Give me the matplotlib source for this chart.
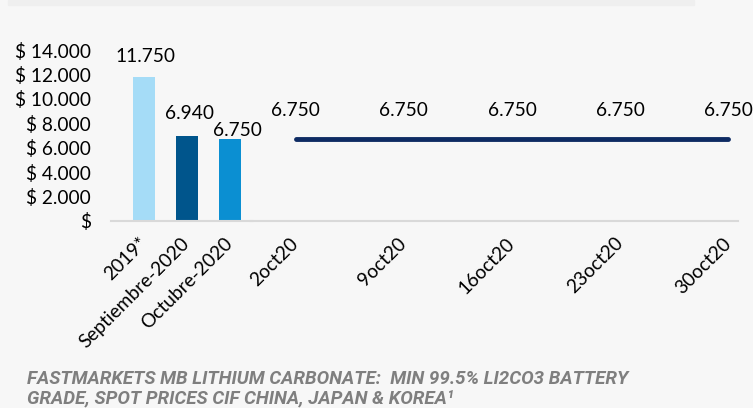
import matplotlib.pyplot as plt
from matplotlib.patches import Rectangle

bar_labels = ["2019*", "Septiembre-2020", "Octubre-2020"]
bar_values = [11750, 6940, 6750]
bar_colors = ["#a5dcf7", "#00558c", "#0b8fd2"]

line_labels = ["2oct20", "9oct20", "16oct20", "23oct20", "30oct20"]
line_values = [6750, 6750, 6750, 6750, 6750]

yticks = [0, 2000, 4000, 6000, 8000, 10000, 12000, 14000]
ytick_labels = ["$"] + ["$ {:,}".format(v).replace(",", ".") for v in yticks[1:]]

title = ("FASTMARKETS MB LITHIUM CARBONATE:  MIN 99.5% LI2CO3 BATTERY\n"
         "GRADE, SPOT PRICES CIF CHINA, JAPAN & KOREA¹")

def fmt(v):
    return "{:,}".format(v).replace(",", ".")

W, H = 753, 408
bg = "#f7f7f7"
fig = plt.figure(figsize=(W / 100, H / 100), dpi=100, facecolor=bg)
plt.rcParams['font.family'] = ['Lato', 'DejaVu Sans']
fs = 13.8

# top grey band
fig.patches.append(Rectangle((8 / W, 1 - 5 / H), 686 / W, 5 / H,
                             transform=fig.transFigure, color="#efefef", zorder=0))

bottom = 1 - 221 / H
height = (221 - 50) / H
split = 251.5
ax0 = fig.add_axes([111 / W, bottom, (split - 111) / W, height])
ax1 = fig.add_axes([split / W, bottom, (738 - split) / W, height], sharey=ax0)

for ax in (ax0, ax1):
    ax.set_facecolor("none")
    for s in ["top", "right", "left"]:
        ax.spines[s].set_visible(False)
    ax.spines["bottom"].set_color("#d9d9d9")
    ax.spines["bottom"].set_linewidth(1.5)
    ax.tick_params(length=0)

# bars (Excel nudges the last label down/right to avoid overlap)
xb = range(len(bar_values))
ax0.bar(xb, bar_values, width=0.51, color=bar_colors)
label_offsets = [(1, 9), (2, 10), (5, 0)]
for x, v, off in zip(xb, bar_values, label_offsets):
    ax0.annotate(fmt(v), (x, v), xytext=off, textcoords="offset points",
                 ha="center", va="bottom", fontsize=fs, annotation_clip=False)
ax0.set_xlim(-0.767, 2.5)
ax0.set_ylim(0, 14000)
ax0.set_yticks(yticks)
ax0.set_yticklabels(ytick_labels, fontsize=fs)
ax0.tick_params(axis="y", pad=14.5)
ax0.set_xticks(list(xb))
ax0.set_xticklabels(bar_labels, fontsize=fs, rotation=45, ha="right",
                    va="center", rotation_mode="anchor")
ax0.tick_params(axis="x", pad=14)

# line
xl = range(len(line_values))
ax1.plot(xl, line_values, color="#0e2b63", lw=3.5, solid_capstyle="round")
for x, v in zip(xl, line_values):
    ax1.annotate(fmt(v), (x, v), xytext=(0, 14), textcoords="offset points",
                 ha="center", va="bottom", fontsize=fs, annotation_clip=False)
ax1.set_xlim(-0.41, 4.09)
ax1.set_xticks(list(xl))
ax1.set_xticklabels(line_labels, fontsize=fs, rotation=45, ha="right",
                    va="center", rotation_mode="anchor")
ax1.tick_params(axis="x", pad=14)
ax1.tick_params(axis="y", labelleft=False)

fig.text(27 / W, 1 - 370 / H, title, ha="left", va="top", fontsize=13.5,
         family="Roboto", weight="bold", style="italic", color="#7f7f7f",
         linespacing=1.12)

fig.savefig("out.png", dpi=100, facecolor=bg)
